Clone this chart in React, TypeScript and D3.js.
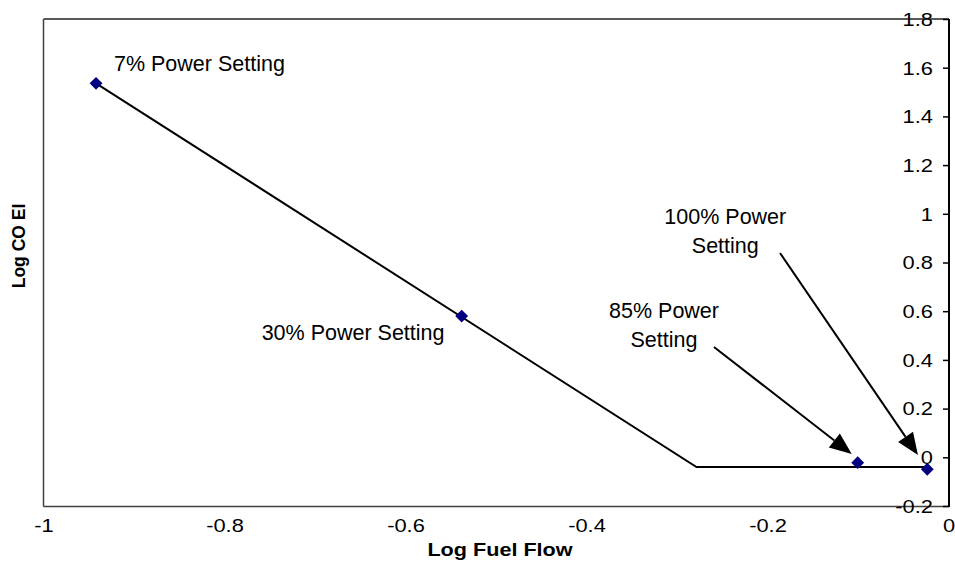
import React from "react";
import * as d3 from "d3";

// Measured points: log fuel flow vs log CO emission index
const pointX = [-0.9425, -0.5385, -0.1009, -0.024];
const pointY = [1.538, 0.582, -0.02, -0.047];

// Fitted piecewise-linear trend (sloped segment, then flat)
const trendX = [-0.9425, -0.279, -0.024];
const trendY = [1.538, -0.038, -0.038];

const xTicks = [-1, -0.8, -0.6, -0.4, -0.2, 0];
const yTicks = [-0.2, 0, 0.2, 0.4, 0.6, 0.8, 1, 1.2, 1.4, 1.6, 1.8];

// Annotation labels (lines, anchor in data units)
const labelLines = [["7% Power Setting"], ["30% Power Setting"], ["85% Power", "Setting"], ["100% Power", "Setting"]];
const labelX = [-0.9227, -0.7595, -0.3149, -0.2472];
const labelY = [1.5885, 0.4838, 0.5729, 0.9589];
const labelAnchor = ["start", "start", "middle", "middle"];

// Arrows from labels to the high-power points
const arrowFromX = [-0.2597, -0.1867];
const arrowFromY = [0.455, 0.841];
const arrowToX = [-0.1075, -0.0343];
const arrowToY = [0.0156, 0.0115];

const W = 955;
const H = 566;
const FONT = "'Liberation Sans', Arial, sans-serif";

export default function App() {
  const x = d3.scaleLinear().domain([-1, 0]).range([44, 949]);
  const y = d3.scaleLinear().domain([-0.2, 1.8]).range([506.5, 19.5]);

  const trendPath = d3
    .line<number>()
    .x((_, i) => x(trendX[i]))
    .y((_, i) => y(trendY[i]))(trendX as any) as string;

  const diamond = d3.symbol().type(d3.symbolDiamond2).size(105)() as string;

  const arrows = arrowFromX.map((fx, i) => {
    const x0 = x(fx), y0 = y(arrowFromY[i]);
    const x1 = x(arrowToX[i]), y1 = y(arrowToY[i]);
    const len = Math.hypot(x1 - x0, y1 - y0);
    const ux = (x1 - x0) / len, uy = (y1 - y0) / len;
    const headLen = 22, headHalf = 9;
    const bx = x1 - ux * headLen, by = y1 - uy * headLen;
    const p1 = [bx - uy * headHalf, by + ux * headHalf];
    const p2 = [bx + uy * headHalf, by - ux * headHalf];
    return { x0, y0, bx, by, head: `M${x1},${y1}L${p1[0]},${p1[1]}L${p2[0]},${p2[1]}Z` };
  });

  return (
    <div style={{ position: "fixed", left: 0, top: 0, width: W, height: H, background: "#fff" }}>
      <svg width={W} height={H} style={{ display: "block" }} fontFamily={FONT}>
        <rect width={W} height={H} fill="#fff" />
        {/* plot frame */}
        <line x1={43.5} x2={949} y1={19} y2={19} stroke="#202020" strokeWidth={1.5} />
        <line x1={43.5} x2={43.5} y1={19} y2={506.5} stroke="#404040" strokeWidth={1.5} />
        <line x1={43.5} x2={949} y1={506.5} y2={506.5} stroke="#404040" strokeWidth={1.5} />

        {/* right-hand value axis */}
        <line x1={949} x2={949} y1={19} y2={507} stroke="#000" strokeWidth={2} />
        {yTicks.map((t) => (
          <g key={t}>
            <line x1={943} x2={949} y1={y(t)} y2={y(t)} stroke="#000" strokeWidth={1.5} />
            <text
              transform={`translate(933,${y(t)}) scale(1.25,1)`}
              textAnchor="end"
              dy="0.36em"
              fontSize={17.5}
              fill="#000"
            >
              {String(t)}
            </text>
          </g>
        ))}

        {/* category axis labels */}
        {xTicks.map((t) => (
          <text
            key={t}
            transform={`translate(${x(t)},532) scale(1.25,1)`}
            textAnchor="middle"
            fontSize={17.5}
            fill="#000"
          >
            {String(t)}
          </text>
        ))}

        {/* axis titles */}
        <text transform="translate(500,556) scale(1.2,1)" textAnchor="middle" fontSize={18} fontWeight="bold">
          Log Fuel Flow
        </text>
        <text transform="translate(25,246) rotate(-90)" textAnchor="middle" fontSize={17.5} fontWeight="bold">
          Log CO EI
        </text>

        {/* trend line */}
        <path d={trendPath} fill="none" stroke="#000" strokeWidth={2} />

        {/* data points */}
        {pointX.map((px, i) => (
          <path key={i} d={diamond} transform={`translate(${x(px)},${y(pointY[i])})`} fill="#000080" />
        ))}

        {/* arrows */}
        {arrows.map((a, i) => (
          <g key={i}>
            <line x1={a.x0} y1={a.y0} x2={a.bx} y2={a.by} stroke="#000" strokeWidth={2} />
            <path d={a.head} fill="#000" />
          </g>
        ))}

        {/* annotations */}
        {labelLines.map((lines, i) => (
          <text
            key={i}
            x={x(labelX[i])}
            y={y(labelY[i])}
            textAnchor={labelAnchor[i] as any}
            fontSize={21.5}
            fill="#000"
          >
            {lines.map((ln, j) => (
              <tspan key={j} x={x(labelX[i])} dy={j === 0 ? 0 : 29}>
                {ln}
              </tspan>
            ))}
          </text>
        ))}
      </svg>
    </div>
  );
}
